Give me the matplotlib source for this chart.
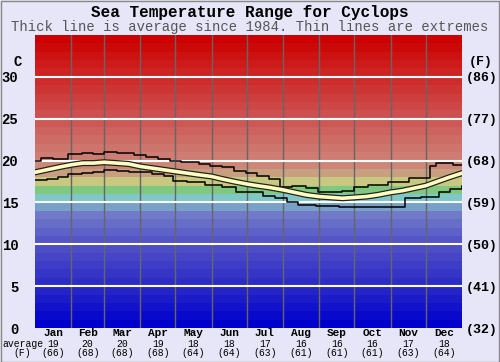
import matplotlib
matplotlib.use("Agg")
import matplotlib.pyplot as plt
import matplotlib.patheffects as pe
import numpy as np

# ---------------- data ----------------
months = ["Jan", "Feb", "Mar", "Apr", "May", "Jun", "Jul", "Aug", "Sep", "Oct", "Nov", "Dec"]
month_avg_c = [19, 20, 20, 19, 18, 18, 17, 16, 16, 16, 17, 18]
month_avg_f = [66, 68, 68, 68, 64, 64, 63, 61, 61, 61, 63, 64]
month_days = [31, 28, 31, 30, 31, 30, 31, 31, 30, 31, 30, 31]

avg_day = [0, 10, 20, 31, 41, 50, 59, 70, 80, 90, 100, 110, 120, 130, 140, 151, 160, 170,
           181, 190, 200, 212, 222, 232, 243, 253, 263, 273, 283, 293, 304, 314, 324, 334,
           344, 354, 365]
avg_temp = [18.6, 18.9, 19.2, 19.5, 19.7, 19.7, 19.8, 19.7, 19.6, 19.3, 19.1, 18.9, 18.7,
            18.5, 18.3, 18.1, 17.8, 17.5, 17.2, 17.0, 16.8, 16.5, 16.2, 15.9, 15.7, 15.6,
            15.5, 15.6, 15.7, 15.9, 16.2, 16.4, 16.7, 17.0, 17.5, 18.0, 18.5]

max_day = [0, 5, 15, 28, 40, 50, 59, 70, 85, 95, 105, 115, 125, 140, 150, 160, 170, 180,
           190, 200, 209, 220, 232, 242, 262, 273, 285, 302, 320, 338, 343, 357, 365]
max_temp = [20.0, 20.3, 20.2, 20.8, 20.9, 20.8, 21.0, 20.9, 20.7, 20.4, 20.2, 20.0, 19.8,
            19.6, 19.4, 19.2, 18.8, 18.5, 18.2, 17.8, 16.9, 17.0, 16.7, 16.3, 16.4, 16.9,
            17.1, 17.5, 17.9, 19.3, 19.7, 19.5, 19.5]

min_day = [0, 10, 20, 28, 40, 50, 59, 70, 80, 90, 100, 110, 118, 130, 145, 160, 172, 185,
           195, 205, 215, 225, 240, 260, 275, 290, 300, 316, 330, 345, 355, 365]
min_temp = [17.7, 17.8, 18.0, 18.4, 18.5, 18.6, 18.9, 18.7, 18.6, 18.6, 18.4, 18.2, 17.6,
            17.4, 17.1, 16.9, 16.3, 16.2, 15.8, 15.5, 15.1, 14.7, 14.6, 14.5, 14.4, 14.5,
            14.5, 15.5, 15.7, 16.2, 16.6, 17.0]

c_ticks = [0, 5, 10, 15, 20, 25, 30]
f_ticks = [32, 41, 50, 59, 68, 77, 86]

# ---------------- style ----------------
bg = "#e6e6f8"
fam = ["Liberation Mono", "DejaVu Sans Mono"]

anchors = [(0, (0, 0, 204)), (5, (45, 45, 198)), (10, (85, 85, 198)), (13, (112, 122, 200)),
           (14, (120, 160, 200)), (15, (128, 200, 200)), (16, (128, 200, 128)),
           (17, (200, 200, 128)), (18, (200, 160, 128)), (19, (205, 135, 120)),
           (20, (205, 125, 115)), (25, (205, 80, 80)), (30, (205, 35, 35)), (34, (204, 0, 0))]

def band_color(v):
    xs = [a[0] for a in anchors]
    rgb = [np.interp(v, xs, [a[1][i] for a in anchors]) / 255 for i in range(3)]
    return tuple(rgb)

fig = plt.figure(figsize=(5.0, 3.62), dpi=100, facecolor=bg)
ax = fig.add_axes([0.07, 0.0939, 0.854, 0.8094])
ax.set_facecolor(bg)
ax.set_xlim(0, 365)
ax.set_ylim(0, 35)

for v in range(35):
    ax.axhspan(v, v + 1, color=band_color(v), lw=0, zorder=0)

bounds = np.concatenate([[0], np.cumsum(month_days)])
for b in bounds[1:-1]:
    ax.axvline(b, color="#666666", lw=1.0, zorder=1)
for t in c_ticks[1:]:
    ax.axhline(t, color="white", lw=1.5, zorder=1)

ax.step(max_day, max_temp, where="post", color="black", lw=1.1, zorder=3)
ax.step(min_day, min_temp, where="post", color="black", lw=1.1, zorder=3)
ax.plot(avg_day, avg_temp, color="#ffffc0", lw=2.6, zorder=4,
        path_effects=[pe.Stroke(linewidth=4.4, foreground="#222222"), pe.Normal()])

for s in ax.spines.values():
    s.set_visible(False)
ax.set_xticks([])
ax.set_yticks(c_ticks)
ax.set_yticklabels([str(t) for t in c_ticks], fontfamily=fam, fontweight="bold", fontsize=10)
ax.tick_params(axis="y", length=0, pad=12)

ax2 = ax.twinx()
ax2.set_ylim(0, 35)
ax2.set_yticks(c_ticks)
ax2.set_yticklabels(["(%d)" % f for f in f_ticks], fontfamily=fam, fontweight="bold", fontsize=9.5)
ax2.tick_params(axis="y", length=0, pad=3)
for s in ax2.spines.values():
    s.set_visible(False)

fig.text(0.036, 0.83, "C", ha="center", va="center", fontfamily=fam, fontweight="bold", fontsize=10)
fig.text(0.962, 0.83, "(F)", ha="center", va="center", fontfamily=fam, fontweight="bold", fontsize=9.5)

centers = (bounds[:-1] + bounds[1:]) / 2
trans = ax.get_xaxis_transform()
for i, m in enumerate(months):
    ax.text(centers[i], -0.017, m, transform=trans, ha="center", va="center",
            fontfamily=fam, fontweight="bold", fontsize=8)
    ax.text(centers[i], -0.055, str(month_avg_c[i]), transform=trans, ha="center", va="center",
            fontfamily=fam, fontsize=7)
    ax.text(centers[i], -0.085, "(%d)" % month_avg_f[i], transform=trans, ha="center", va="center",
            fontfamily=fam, fontsize=7)
fig.text(0.045, 0.0505, "average", ha="center", va="center", fontfamily=fam, fontsize=7)
fig.text(0.045, 0.026, "(F)", ha="center", va="center", fontfamily=fam, fontsize=7)

fig.text(0.5, 0.965, "Sea Temperature Range for Cyclops", ha="center", va="center",
         fontfamily=fam, fontweight="bold", fontsize=11.5)
fig.text(0.5, 0.925, "Thick line is average since 1984. Thin lines are extremes", ha="center",
         va="center", fontfamily=fam, fontsize=10, color="#555555")

fig.add_artist(plt.Rectangle((0.001, 0.001), 0.997, 0.997, transform=fig.transFigure,
                             fill=False, edgecolor="#888888", lw=1))

fig.savefig("out.png", dpi=100, facecolor=bg)
